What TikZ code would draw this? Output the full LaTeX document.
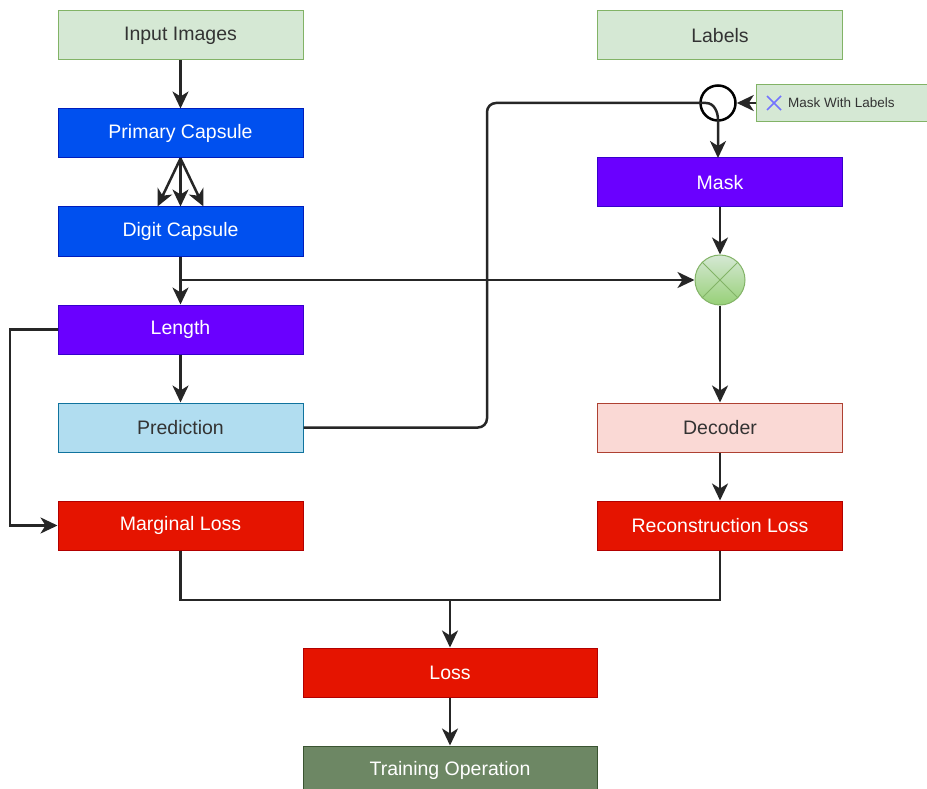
\documentclass[tikz,border=0pt]{standalone}
\usepackage{fontspec}
\setmainfont{Liberation Sans}
\usetikzlibrary{arrows.meta,calc}
\definecolor{gfill}{HTML}{D5E8D4}\definecolor{gline}{HTML}{82B366}
\definecolor{bfill}{HTML}{0050EF}\definecolor{bline}{HTML}{001DBC}
\definecolor{pfill}{HTML}{6A00FF}\definecolor{pline}{HTML}{3700CC}
\definecolor{cfill}{HTML}{B1DDF0}\definecolor{cline}{HTML}{10739E}
\definecolor{rfill}{HTML}{FAD9D5}\definecolor{rline}{HTML}{AE4132}
\definecolor{lfill}{HTML}{E51400}\definecolor{lline}{HTML}{B20000}
\definecolor{ofill}{HTML}{6D8764}\definecolor{oline}{HTML}{3A5431}
\definecolor{dtext}{HTML}{333333}
\definecolor{xgreen}{HTML}{97D077}
\tikzset{
  box/.style={draw, line width=1pt, minimum width=245pt, minimum height=49pt, inner sep=0pt, font=\fontsize{19.5}{22}\selectfont},
  lightg/.style={box, fill=gfill, draw=gline, text=dtext},
  blueb/.style={box, fill=bfill, draw=bline, text=white},
  purb/.style={box, fill=pfill, draw=pline, text=white},
  cyanb/.style={box, fill=cfill, draw=cline, text=dtext},
  pinkb/.style={box, fill=rfill, draw=rline, text=dtext},
  redb/.style={box, fill=lfill, draw=lline, text=white},
  olb/.style={box, fill=ofill, draw=oline, text=white},
  conn/.style={line width=2.5pt, draw=black!85, -{Stealth[length=17pt,width=16pt,inset=5pt]}},
  plain/.style={line width=2.5pt, draw=black!85},
}
\begin{document}
\begin{tikzpicture}[x=1pt,y=-1pt]
\clip (0,0) rectangle (927,789);
\fill[white] (0,0) rectangle (927,789);
% left column
\node[lightg] (inp) at (180.5,35.5) {Input Images};
\node[blueb] (prim) at (180.5,133.5) {Primary Capsule};
\node[blueb] (dig) at (180.5,231.5) {Digit Capsule};
\node[purb] (len) at (180.5,329.5) {Length};
\node[cyanb] (pred) at (180.5,427.5) {Prediction};
\node[redb] (marg) at (180.5,525.5) {Marginal Loss};
% right column
\node[lightg] (lab) at (720,35.5) {Labels};
\node[purb] (mask) at (720,182.5) {Mask};
\node[pinkb] (dec) at (720,427.5) {Decoder};
\node[redb] (rec) at (720,525.5) {Reconstruction Loss};
% bottom
\node[redb, minimum width=294pt] (loss) at (450,672.5) {Loss};
\node[olb, minimum width=294pt] (train) at (450,770.5) {Training Operation};
% circles
\node[circle, draw=black, line width=2.5pt, minimum size=35pt, inner sep=0pt, fill=white] (mc) at (718,103) {};
\node[draw=gline, line width=1pt, fill=gfill, minimum width=171pt, minimum height=37pt, inner sep=0pt, anchor=west] (mwl) at (756,103) {};
\node[anchor=west, font=\fontsize{13.5}{15}\selectfont, text=dtext, inner sep=0pt] (mwlt) at (788,103) {Mask With Labels};
\coordinate (xc) at (774,103);
\draw[line width=1.6pt, draw=blue!55!white] ($(xc)+(-7,-7)$) -- ($(xc)+(7,7)$) ($(xc)+(-7,7)$) -- ($(xc)+(7,-7)$);
\node[circle, draw=gline, line width=1pt, top color=gfill, bottom color=xgreen, minimum size=50pt, inner sep=0pt] (xo) at (720,280) {};
\draw[gline, line width=1pt] (xo.north west) -- (xo.south east) (xo.north east) -- (xo.south west);
% connectors
\coordinate (mtop) at (718,158);
\coordinate (bend) at (718,120);
\coordinate (pin) at (706,103);
\coordinate (pr) at (487,427.5);
\coordinate (pt) at (487,103);
\coordinate (br) at (180.5,280);
\coordinate (ll) at (10,329.5);
\coordinate (lb) at (10,525.5);
\coordinate (j1) at (180.5,600);
\coordinate (j2) at (720,600);
\coordinate (j) at (450,600);
\draw[conn] (inp) -- (prim);
\draw[conn] (prim.south) -- ($(dig.north)+(-23,0)$);
\draw[conn] (prim.south) -- (dig.north);
\draw[conn] (prim.south) -- ($(dig.north)+(23,0)$);
\draw[conn] (dig) -- (len);
\draw[conn] (br) -- (xo.west);
\draw[conn] (len.west) -- (ll) -- (lb) -- (marg.west);
\draw[conn] (len) -- (pred);
\draw[plain, rounded corners=9pt] (pred.east) -- (pr) -- (pt) -- (pin);
\draw[conn] (pin) to[out=0,in=90] (bend) -- (mtop);
\draw[conn] (mwl.west) -- (mc.east);
\draw[conn] (mask) -- (xo);
\draw[conn] (xo) -- (dec);
\draw[conn] (dec) -- (rec);
\draw[plain] (marg.south) -- (j1) -- (j2) -- (rec.south);
\draw[conn] (j) -- (loss.north);
\draw[conn] (loss) -- (train);
\end{tikzpicture}
\end{document}
